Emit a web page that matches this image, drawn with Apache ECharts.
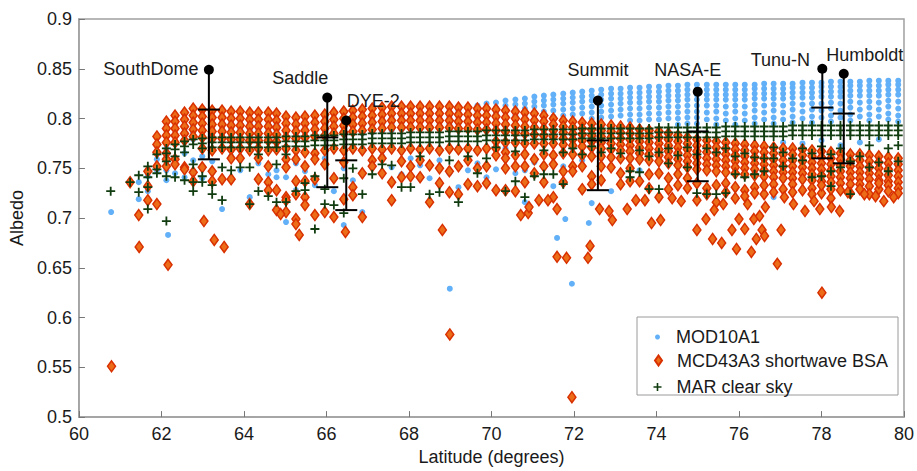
<!DOCTYPE html>
<html>
<head>
<meta charset="utf-8">
<title>Albedo vs latitude</title>
<script src="https://cdn.jsdelivr.net/npm/echarts@6/dist/echarts.min.js"></script>
<style>
  html, body { margin: 0; padding: 0; background: #fff; }
  #chart { width: 917px; height: 471px; }
</style>
</head>
<body>
<div id="chart"></div>
<script>
// axis ranges (degrees latitude / albedo)
var xMin = 60, xMax = 80, xStep = 2;
var yMin = 0.5, yMax = 0.9, yStep = 0.05;

var seriesNames = ['MOD10A1', 'MCD43A3 shortwave BSA', 'MAR clear sky'];

// latitude of each grid column
var colLat = [61.24, 61.45, 61.67, 61.89, 62.12, 62.33, 62.56, 62.77, 62.99, 63.23,
  63.47, 63.69, 63.91, 64.14, 64.35, 64.59, 64.79, 65.02, 65.26, 65.48,
  65.72, 65.96, 66.18, 66.42, 66.64, 66.87, 67.11, 67.35, 67.58, 67.82,
  68.04, 68.27, 68.50, 68.74, 68.98, 69.20, 69.43, 69.66, 69.88, 70.11,
  70.34, 70.58, 70.81, 71.04, 71.27, 71.50, 71.74, 71.97, 72.20, 72.43,
  72.66, 72.90, 73.13, 73.36, 73.59, 73.82, 74.06, 74.29, 74.52, 74.75,
  74.98, 75.22, 75.45, 75.68, 75.91, 76.14, 76.38, 76.61, 76.84, 77.07,
  77.30, 77.54, 77.77, 78.00, 78.23, 78.46, 78.70, 78.93, 79.16, 79.39,
  79.62, 79.86];

// MOD10A1 albedo values per column
var modCols = [
  [0.736], [0.736, 0.719], [0.742, 0.727], [0.766, 0.759, 0.748], [0.776, 0.770, 0.748, 0.738],
  [0.784, 0.777, 0.760, 0.745], [0.790, 0.783, 0.765, 0.741], [0.793, 0.786, 0.779, 0.758],
  [0.795, 0.789, 0.782, 0.762, 0.740], [0.796, 0.790, 0.783, 0.757],
  [0.796, 0.790, 0.783, 0.739, 0.709], [0.796, 0.790, 0.783, 0.762], [0.795, 0.789, 0.782, 0.748],
  [0.795, 0.789, 0.782, 0.721], [0.795, 0.789, 0.782, 0.755], [0.794, 0.788, 0.781, 0.744],
  [0.794, 0.788, 0.781, 0.748, 0.741], [0.794, 0.788, 0.781, 0.741, 0.696],
  [0.795, 0.789, 0.782, 0.755, 0.728], [0.795, 0.789, 0.782, 0.747],
  [0.796, 0.790, 0.783, 0.733], [0.796, 0.790, 0.783, 0.760], [0.797, 0.791, 0.784, 0.727],
  [0.797, 0.791, 0.784, 0.750, 0.693], [0.798, 0.792, 0.785, 0.738], [0.798, 0.792, 0.785, 0.706],
  [0.799, 0.793, 0.786, 0.757], [0.800, 0.794, 0.787, 0.762], [0.801, 0.795, 0.788, 0.751],
  [0.802, 0.796, 0.789, 0.744], [0.803, 0.797, 0.790, 0.760], [0.804, 0.798, 0.791, 0.753],
  [0.805, 0.799, 0.792, 0.740], [0.806, 0.800, 0.793, 0.758], [0.807, 0.801, 0.794, 0.745],
  [0.808, 0.802, 0.795, 0.731], [0.810, 0.804, 0.797, 0.748], [0.813, 0.807, 0.800, 0.755],
  [0.815, 0.809, 0.803, 0.797, 0.741], [0.816, 0.811, 0.806, 0.800, 0.749],
  [0.818, 0.813, 0.808, 0.802, 0.770], [0.819, 0.814, 0.809, 0.803, 0.745],
  [0.820, 0.815, 0.810, 0.804, 0.716, 0.748], [0.822, 0.817, 0.812, 0.806, 0.756],
  [0.823, 0.818, 0.813, 0.807, 0.801, 0.766], [0.824, 0.819, 0.814, 0.808, 0.802, 0.732],
  [0.825, 0.820, 0.815, 0.809, 0.803, 0.752], [0.826, 0.821, 0.816, 0.810, 0.804, 0.770],
  [0.827, 0.822, 0.817, 0.811, 0.805, 0.758], [0.828, 0.823, 0.818, 0.812, 0.806, 0.800, 0.715],
  [0.829, 0.824, 0.819, 0.813, 0.807, 0.801, 0.760], [0.830, 0.825, 0.820, 0.814, 0.808, 0.802, 0.727],
  [0.830, 0.825, 0.820, 0.815, 0.809, 0.803, 0.768], [0.831, 0.826, 0.821, 0.816, 0.810, 0.804, 0.798],
  [0.831, 0.826, 0.821, 0.816, 0.810, 0.804, 0.798, 0.748], [0.832, 0.827, 0.822, 0.817, 0.811, 0.805, 0.799],
  [0.832, 0.827, 0.822, 0.817, 0.811, 0.805, 0.799, 0.773], [0.833, 0.828, 0.823, 0.818, 0.812, 0.806, 0.800],
  [0.833, 0.828, 0.823, 0.818, 0.812, 0.806, 0.800, 0.794], [0.834, 0.829, 0.824, 0.819, 0.813, 0.807, 0.801, 0.795],
  [0.834, 0.829, 0.824, 0.819, 0.813, 0.807, 0.801, 0.795], [0.834, 0.829, 0.824, 0.819, 0.813, 0.806, 0.799],
  [0.834, 0.829, 0.824, 0.819, 0.813, 0.807, 0.800, 0.794], [0.834, 0.829, 0.824, 0.819, 0.812, 0.805, 0.798, 0.776],
  [0.834, 0.829, 0.824, 0.819, 0.813, 0.807, 0.800, 0.794], [0.834, 0.829, 0.824, 0.819, 0.812, 0.805, 0.798],
  [0.834, 0.830, 0.825, 0.820, 0.814, 0.808, 0.801, 0.795, 0.774], [0.835, 0.830, 0.825, 0.820, 0.813, 0.806, 0.799],
  [0.835, 0.830, 0.825, 0.820, 0.814, 0.808, 0.801, 0.795, 0.721], [0.835, 0.830, 0.825, 0.820, 0.813, 0.806, 0.799, 0.776],
  [0.835, 0.831, 0.826, 0.821, 0.815, 0.809, 0.802, 0.796], [0.836, 0.831, 0.826, 0.821, 0.814, 0.807, 0.800, 0.775],
  [0.836, 0.831, 0.826, 0.821, 0.815, 0.809, 0.802, 0.796], [0.836, 0.832, 0.827, 0.822, 0.815, 0.808, 0.801, 0.778],
  [0.837, 0.832, 0.827, 0.822, 0.816, 0.810, 0.803, 0.797], [0.837, 0.832, 0.827, 0.822, 0.815, 0.808, 0.801, 0.773],
  [0.837, 0.833, 0.828, 0.823, 0.817, 0.811, 0.804, 0.798], [0.837, 0.833, 0.828, 0.823, 0.816, 0.809, 0.802, 0.776],
  [0.838, 0.833, 0.828, 0.823, 0.817, 0.811, 0.804, 0.798], [0.838, 0.833, 0.828, 0.823, 0.816, 0.809, 0.802, 0.779],
  [0.838, 0.834, 0.829, 0.824, 0.818, 0.812, 0.805, 0.799], [0.838, 0.834, 0.829, 0.824, 0.817, 0.810, 0.803, 0.797]
];
var modExtra = [[60.78, 0.706], [62.16, 0.683], [68.99, 0.629], [71.95, 0.634], [71.59, 0.680],
  [71.79, 0.699], [72.36, 0.695]];

// MCD43A3 shortwave BSA albedo values per column
var mcdCols = [
  [0.736], [0.703], [0.747, 0.732, 0.718], [0.782, 0.774, 0.766, 0.752, 0.714],
  [0.797, 0.790, 0.783, 0.776, 0.765, 0.759, 0.752], [0.803, 0.797, 0.790, 0.783, 0.776, 0.759, 0.754],
  [0.806, 0.799, 0.792, 0.785, 0.778, 0.751, 0.749], [0.810, 0.803, 0.796, 0.789, 0.782, 0.746, 0.737],
  [0.809, 0.802, 0.795, 0.788, 0.781, 0.770, 0.751], [0.808, 0.801, 0.794, 0.787, 0.780, 0.768, 0.747, 0.737],
  [0.808, 0.801, 0.794, 0.787, 0.780, 0.770, 0.739], [0.807, 0.800, 0.793, 0.786, 0.779, 0.769, 0.760, 0.739],
  [0.807, 0.800, 0.793, 0.786, 0.779, 0.770, 0.760], [0.806, 0.799, 0.792, 0.785, 0.778, 0.768, 0.714],
  [0.806, 0.799, 0.792, 0.785, 0.778, 0.770, 0.760, 0.739], [0.806, 0.799, 0.792, 0.785, 0.778, 0.768, 0.752, 0.736, 0.728],
  [0.805, 0.798, 0.791, 0.784, 0.777, 0.769, 0.728, 0.708], [0.802, 0.795, 0.788, 0.781, 0.770, 0.759, 0.751, 0.721, 0.718, 0.706],
  [0.801, 0.794, 0.787, 0.780, 0.768, 0.759, 0.737, 0.724, 0.699, 0.694], [0.802, 0.795, 0.788, 0.781, 0.766, 0.752, 0.737, 0.721, 0.713],
  [0.803, 0.796, 0.789, 0.782, 0.765, 0.759, 0.739, 0.703], [0.804, 0.797, 0.790, 0.783, 0.768, 0.754, 0.706],
  [0.806, 0.799, 0.792, 0.785, 0.770, 0.740, 0.701], [0.807, 0.800, 0.793, 0.786, 0.768, 0.756, 0.719],
  [0.808, 0.801, 0.794, 0.787, 0.770, 0.731, 0.723], [0.809, 0.802, 0.795, 0.788, 0.768, 0.745, 0.701],
  [0.810, 0.803, 0.796, 0.789, 0.770, 0.758, 0.752], [0.811, 0.804, 0.797, 0.790, 0.769, 0.760, 0.745],
  [0.812, 0.805, 0.798, 0.791, 0.770, 0.736, 0.718], [0.812, 0.805, 0.798, 0.791, 0.768, 0.757, 0.741],
  [0.812, 0.805, 0.798, 0.791, 0.770, 0.752, 0.742], [0.812, 0.805, 0.798, 0.791, 0.769, 0.758, 0.741],
  [0.812, 0.805, 0.798, 0.791, 0.770, 0.753, 0.716], [0.812, 0.805, 0.798, 0.791, 0.768, 0.750, 0.735],
  [0.812, 0.805, 0.798, 0.791, 0.770, 0.747, 0.726], [0.811, 0.804, 0.797, 0.790, 0.769, 0.752, 0.724],
  [0.811, 0.804, 0.797, 0.790, 0.770, 0.758, 0.734], [0.810, 0.803, 0.796, 0.789, 0.768, 0.750, 0.732],
  [0.810, 0.803, 0.796, 0.789, 0.770, 0.752, 0.735], [0.809, 0.802, 0.795, 0.788, 0.777, 0.770, 0.763, 0.728],
  [0.808, 0.801, 0.794, 0.787, 0.776, 0.766, 0.760, 0.750, 0.728], [0.807, 0.800, 0.793, 0.786, 0.776, 0.763, 0.752, 0.727],
  [0.806, 0.799, 0.792, 0.785, 0.775, 0.764, 0.752, 0.736], [0.805, 0.798, 0.791, 0.784, 0.775, 0.759, 0.745],
  [0.803, 0.797, 0.790, 0.783, 0.775, 0.764, 0.752, 0.736], [0.800, 0.794, 0.788, 0.782, 0.775, 0.763, 0.754, 0.721],
  [0.798, 0.792, 0.786, 0.780, 0.774, 0.765, 0.747, 0.736], [0.797, 0.791, 0.785, 0.779, 0.773, 0.764, 0.752, 0.747],
  [0.796, 0.790, 0.784, 0.778, 0.772, 0.763, 0.752, 0.729], [0.795, 0.789, 0.783, 0.777, 0.771, 0.762, 0.742, 0.734],
  [0.794, 0.788, 0.782, 0.776, 0.770, 0.762, 0.752, 0.738], [0.793, 0.787, 0.781, 0.775, 0.769, 0.761, 0.751],
  [0.792, 0.786, 0.780, 0.774, 0.768, 0.760, 0.745, 0.734], [0.791, 0.785, 0.779, 0.773, 0.767, 0.760, 0.750, 0.737],
  [0.789, 0.783, 0.777, 0.771, 0.765, 0.759, 0.737], [0.788, 0.782, 0.776, 0.770, 0.764, 0.758, 0.744, 0.730],
  [0.787, 0.781, 0.775, 0.769, 0.763, 0.757, 0.745, 0.721], [0.785, 0.779, 0.773, 0.767, 0.761, 0.755, 0.740, 0.729],
  [0.783, 0.777, 0.771, 0.765, 0.759, 0.753, 0.744, 0.733], [0.781, 0.775, 0.769, 0.763, 0.757, 0.751, 0.740, 0.730],
  [0.779, 0.773, 0.767, 0.761, 0.755, 0.749, 0.735, 0.718], [0.778, 0.772, 0.766, 0.760, 0.754, 0.748, 0.730, 0.724],
  [0.777, 0.771, 0.765, 0.759, 0.753, 0.747, 0.733, 0.716], [0.776, 0.770, 0.764, 0.758, 0.752, 0.746, 0.735, 0.726],
  [0.775, 0.769, 0.763, 0.757, 0.751, 0.745, 0.731, 0.720], [0.774, 0.768, 0.762, 0.756, 0.750, 0.744, 0.728, 0.722],
  [0.773, 0.767, 0.761, 0.755, 0.749, 0.743, 0.731, 0.725], [0.772, 0.766, 0.760, 0.754, 0.748, 0.742, 0.724, 0.733],
  [0.771, 0.765, 0.759, 0.753, 0.747, 0.741, 0.734, 0.726], [0.770, 0.764, 0.758, 0.752, 0.746, 0.740, 0.729],
  [0.770, 0.764, 0.758, 0.752, 0.746, 0.740, 0.734, 0.726], [0.769, 0.763, 0.757, 0.751, 0.745, 0.739, 0.728],
  [0.768, 0.762, 0.756, 0.750, 0.744, 0.738, 0.730, 0.724], [0.767, 0.761, 0.755, 0.749, 0.743, 0.737, 0.725, 0.733],
  [0.766, 0.760, 0.754, 0.748, 0.742, 0.736, 0.720, 0.729], [0.765, 0.759, 0.753, 0.747, 0.741, 0.735, 0.728],
  [0.764, 0.758, 0.752, 0.746, 0.740, 0.734, 0.725], [0.764, 0.758, 0.752, 0.746, 0.740, 0.734, 0.729],
  [0.763, 0.757, 0.751, 0.745, 0.739, 0.732, 0.724], [0.762, 0.756, 0.750, 0.744, 0.738, 0.729, 0.735],
  [0.761, 0.755, 0.749, 0.743, 0.737, 0.733, 0.727], [0.760, 0.754, 0.748, 0.742, 0.736, 0.730, 0.725]
];
var mcdExtra = [[60.79, 0.551], [61.46, 0.671], [62.16, 0.653], [63.03, 0.697], [63.28, 0.678],
  [63.52, 0.671], [64.89, 0.704], [65.34, 0.683], [66.46, 0.686], [68.81, 0.688], [68.99, 0.583],
  [70.71, 0.703], [70.89, 0.705], [70.91, 0.711], [71.15, 0.718], [71.37, 0.718], [71.59, 0.709],
  [71.59, 0.661], [71.82, 0.660], [71.95, 0.520], [72.34, 0.660], [72.39, 0.672], [72.62, 0.709],
  [72.85, 0.707], [72.93, 0.698], [73.29, 0.709], [73.50, 0.718], [73.72, 0.718], [73.88, 0.695],
  [74.10, 0.698], [74.38, 0.720], [74.60, 0.717], [74.98, 0.688], [75.20, 0.699], [75.36, 0.679],
  [75.40, 0.708], [75.58, 0.675], [75.62, 0.714], [75.83, 0.688], [75.94, 0.669], [76.00, 0.699],
  [76.14, 0.689], [76.21, 0.714], [76.30, 0.666], [76.36, 0.699], [76.42, 0.679], [76.50, 0.702],
  [76.56, 0.688], [76.62, 0.682], [76.64, 0.711], [76.93, 0.654], [77.02, 0.688], [77.10, 0.721],
  [77.32, 0.714], [77.60, 0.707], [77.82, 0.717], [77.96, 0.709], [78.01, 0.625], [78.24, 0.711],
  [78.44, 0.707], [78.64, 0.726], [79.04, 0.724], [79.31, 0.722], [79.51, 0.717], [79.75, 0.721]];

// MAR clear sky albedo values per column
var marCols = [
  [0.736], [0.743, 0.726], [0.752, 0.741, 0.731, 0.709], [0.764, 0.749, 0.745],
  [0.770, 0.765, 0.757, 0.742, 0.697], [0.774, 0.769, 0.762, 0.741], [0.777, 0.772, 0.766, 0.738],
  [0.779, 0.774, 0.754, 0.736, 0.727], [0.780, 0.775, 0.770, 0.742, 0.736], [0.781, 0.776, 0.771, 0.733, 0.724],
  [0.781, 0.776, 0.771, 0.751, 0.718], [0.781, 0.776, 0.771, 0.748], [0.781, 0.776, 0.771, 0.751],
  [0.781, 0.776, 0.771, 0.751, 0.714], [0.781, 0.776, 0.771, 0.764, 0.727], [0.781, 0.776, 0.771, 0.722],
  [0.781, 0.776, 0.771, 0.754, 0.716], [0.782, 0.777, 0.772, 0.764, 0.716], [0.782, 0.777, 0.772, 0.727],
  [0.782, 0.777, 0.772, 0.735, 0.728], [0.783, 0.778, 0.773, 0.742, 0.689], [0.783, 0.778, 0.773, 0.729, 0.714],
  [0.783, 0.778, 0.773, 0.713], [0.784, 0.779, 0.774, 0.740, 0.705], [0.784, 0.779, 0.774, 0.750],
  [0.784, 0.779, 0.774, 0.724], [0.785, 0.780, 0.775, 0.744], [0.785, 0.780, 0.775, 0.754],
  [0.785, 0.780, 0.775, 0.753], [0.785, 0.780, 0.775, 0.731], [0.786, 0.781, 0.776, 0.731],
  [0.786, 0.781, 0.776, 0.762], [0.786, 0.781, 0.776, 0.724], [0.786, 0.781, 0.776, 0.726],
  [0.787, 0.782, 0.777, 0.758], [0.787, 0.782, 0.777, 0.716], [0.787, 0.782, 0.777, 0.762],
  [0.787, 0.782, 0.777, 0.745], [0.788, 0.783, 0.778, 0.760], [0.788, 0.783, 0.778, 0.771],
  [0.788, 0.783, 0.778, 0.727], [0.788, 0.783, 0.778, 0.737, 0.767], [0.788, 0.783, 0.778, 0.721],
  [0.789, 0.784, 0.779, 0.742], [0.789, 0.784, 0.779, 0.744, 0.768], [0.789, 0.784, 0.779, 0.744],
  [0.789, 0.784, 0.779, 0.734, 0.766], [0.789, 0.784, 0.779, 0.770], [0.790, 0.785, 0.780, 0.764],
  [0.790, 0.785, 0.780, 0.772], [0.790, 0.785, 0.780, 0.766], [0.790, 0.785, 0.780, 0.770],
  [0.790, 0.785, 0.780, 0.765], [0.790, 0.785, 0.780, 0.747, 0.741], [0.790, 0.785, 0.780, 0.746, 0.768],
  [0.790, 0.785, 0.780, 0.729, 0.762], [0.791, 0.786, 0.781, 0.729, 0.766], [0.791, 0.786, 0.781, 0.770, 0.755],
  [0.791, 0.786, 0.781, 0.763], [0.791, 0.786, 0.781, 0.751, 0.771], [0.791, 0.786, 0.781, 0.725, 0.764],
  [0.791, 0.786, 0.781, 0.724, 0.770], [0.791, 0.786, 0.781, 0.724, 0.766], [0.792, 0.787, 0.782, 0.770, 0.725],
  [0.792, 0.787, 0.782, 0.744, 0.762], [0.792, 0.787, 0.782, 0.765, 0.741], [0.792, 0.787, 0.782, 0.761, 0.744],
  [0.792, 0.787, 0.782, 0.760, 0.747], [0.792, 0.787, 0.782, 0.760, 0.771], [0.792, 0.787, 0.782, 0.752, 0.766],
  [0.793, 0.788, 0.783, 0.760], [0.793, 0.788, 0.783, 0.758, 0.770], [0.793, 0.788, 0.783, 0.741, 0.765],
  [0.793, 0.788, 0.783, 0.742, 0.772], [0.793, 0.788, 0.783, 0.732, 0.747, 0.764], [0.793, 0.788, 0.783, 0.751, 0.770],
  [0.793, 0.788, 0.783, 0.757, 0.724], [0.793, 0.788, 0.783, 0.762], [0.793, 0.788, 0.783, 0.751, 0.773],
  [0.793, 0.788, 0.783, 0.756], [0.793, 0.788, 0.783, 0.747, 0.770], [0.793, 0.788, 0.783, 0.757, 0.773]
];
var marExtra = [[60.77, 0.727]];

// station observations with error bars
var stationNames = ['SouthDome', 'Saddle', 'DYE-2', 'Summit', 'NASA-E', 'Tunu-N', 'Humboldt'];
var stationLat = [63.15, 66.02, 66.48, 72.58, 75.00, 78.02, 78.54];
var stationObs = [0.849, 0.821, 0.798, 0.818, 0.827, 0.850, 0.845];
var stationMid = [0.809, 0.781, 0.758, 0.778, 0.787, 0.811, 0.805];
var stationLow = [0.759, 0.731, 0.708, 0.728, 0.737, 0.760, 0.755];

// label placement relative to the station dot (px)
var labelOffsets = [[-58, -1], [-27, -20], [27, -20], [0, -31], [-10, -22], [-42, -9], [21, -19]];

var FONT = 'Liberation Sans, Arial, Helvetica, sans-serif';
var plusPath = 'path://M3.2,0H4.8V3.2H8V4.8H4.8V8H3.2V4.8H0V3.2H3.2Z';

function toPoints(cols, extra) {
  var pts = [];
  colLat.forEach(function (lat, i) {
    (cols[i] || []).forEach(function (a) { pts.push([lat, a]); });
  });
  return pts.concat(extra);
}

var stationData = stationLat.map(function (lat, i) {
  return [lat, stationObs[i], stationMid[i], stationLow[i], i];
});

var chart = echarts.init(document.getElementById('chart'), null, { renderer: 'svg' });

var option = {
  animation: false,
  backgroundColor: '#fff',
  grid: {
    left: 72, right: 10, top: 19, bottom: 48,
    show: true, borderColor: '#a0a0a0', borderWidth: 1.5, backgroundColor: 'transparent'
  },
  xAxis: {
    type: 'value', min: xMin, max: xMax, interval: xStep,
    name: 'Latitude (degrees)', nameLocation: 'middle', nameGap: 30,
    nameTextStyle: { fontFamily: FONT, fontSize: 18, color: '#1a1a1a' },
    axisLine: { lineStyle: { color: '#a0a0a0', width: 1.5 } },
    axisTick: { inside: true, length: 6, lineStyle: { color: '#777' } },
    axisLabel: { fontFamily: FONT, fontSize: 18, color: '#1a1a1a', margin: 8 },
    splitLine: { show: false }
  },
  yAxis: {
    type: 'value', min: yMin, max: yMax, interval: yStep,
    name: 'Albedo', nameLocation: 'middle', nameGap: 46,
    nameTextStyle: { fontFamily: FONT, fontSize: 18, color: '#1a1a1a' },
    axisLine: { show: true, lineStyle: { color: '#a0a0a0', width: 1.5 } },
    axisTick: { show: true, inside: true, length: 6, lineStyle: { color: '#777' } },
    axisLabel: { fontFamily: FONT, fontSize: 18, color: '#1a1a1a', margin: 7 },
    splitLine: { show: false }
  },
  legend: [
    {
      data: [{ name: seriesNames[0], icon: 'circle' }],
      left: 655, top: 328, padding: 0, itemWidth: 5, itemHeight: 5, selectedMode: false,
      textStyle: { fontFamily: FONT, fontSize: 18, color: '#1a1a1a', padding: [0, 0, 0, 11] }
    },
    {
      data: [{ name: seriesNames[1], icon: 'diamond' }],
      left: 654, top: 351.5, padding: 0, itemWidth: 7, itemHeight: 10, symbolKeepAspect: false,
      selectedMode: false,
      textStyle: { fontFamily: FONT, fontSize: 18, color: '#1a1a1a', padding: [0, 0, 0, 10] }
    },
    {
      data: [{ name: seriesNames[2], icon: plusPath }],
      left: 653.5, top: 378, padding: 0, itemWidth: 8, itemHeight: 8, selectedMode: false,
      textStyle: { fontFamily: FONT, fontSize: 18, color: '#1a1a1a', padding: [0, 0, 0, 10] }
    }
  ],
  graphic: [{
    type: 'rect', z: 3,
    shape: { x: 637, y: 317, width: 261, height: 78 },
    style: { fill: '#fff', stroke: '#9a9a9a', lineWidth: 1 }
  }],
  series: [
    {
      name: seriesNames[0], type: 'scatter', symbol: 'circle', symbolSize: 6, z: 2,
      itemStyle: { color: '#62b0f7', opacity: 1 },
      data: toPoints(modCols, modExtra)
    },
    {
      name: seriesNames[1], type: 'scatter', symbol: 'diamond', symbolSize: [8, 11], z: 3,
      itemStyle: { color: '#ec6c18', borderColor: '#d93000', borderWidth: 1.5, opacity: 1 },
      data: toPoints(mcdCols, mcdExtra)
    },
    {
      name: seriesNames[2], type: 'scatter', symbol: plusPath, symbolSize: 9, z: 4,
      itemStyle: { color: '#103c10', opacity: 1 },
      data: toPoints(marCols, marExtra)
    },
    {
      name: 'stations', type: 'custom', clip: false, z: 10,
      encode: { x: 0, y: 1 },
      data: stationData,
      renderItem: function (params, api) {
        var top = api.coord([api.value(0), api.value(1)]);
        var mid = api.coord([api.value(0), api.value(2)]);
        var low = api.coord([api.value(0), api.value(3)]);
        var idx = api.value(4);
        var half = 11;
        var ls = { stroke: '#000', lineWidth: 2 };
        return {
          type: 'group',
          children: [
            { type: 'line', shape: { x1: top[0], y1: top[1], x2: low[0], y2: low[1] }, style: ls },
            { type: 'line', shape: { x1: mid[0] - half, y1: mid[1], x2: mid[0] + half, y2: mid[1] }, style: ls },
            { type: 'line', shape: { x1: low[0] - half, y1: low[1], x2: low[0] + half, y2: low[1] }, style: ls },
            { type: 'circle', shape: { cx: top[0], cy: top[1], r: 5 }, style: { fill: '#000' } },
            {
              type: 'text',
              x: top[0] + labelOffsets[idx][0], y: top[1] + labelOffsets[idx][1],
              style: {
                text: stationNames[idx], fill: '#1a1a1a',
                font: '18px ' + FONT, align: 'center', verticalAlign: 'middle'
              }
            }
          ]
        };
      }
    }
  ]
};

chart.setOption(option);
</script>
</body>
</html>
